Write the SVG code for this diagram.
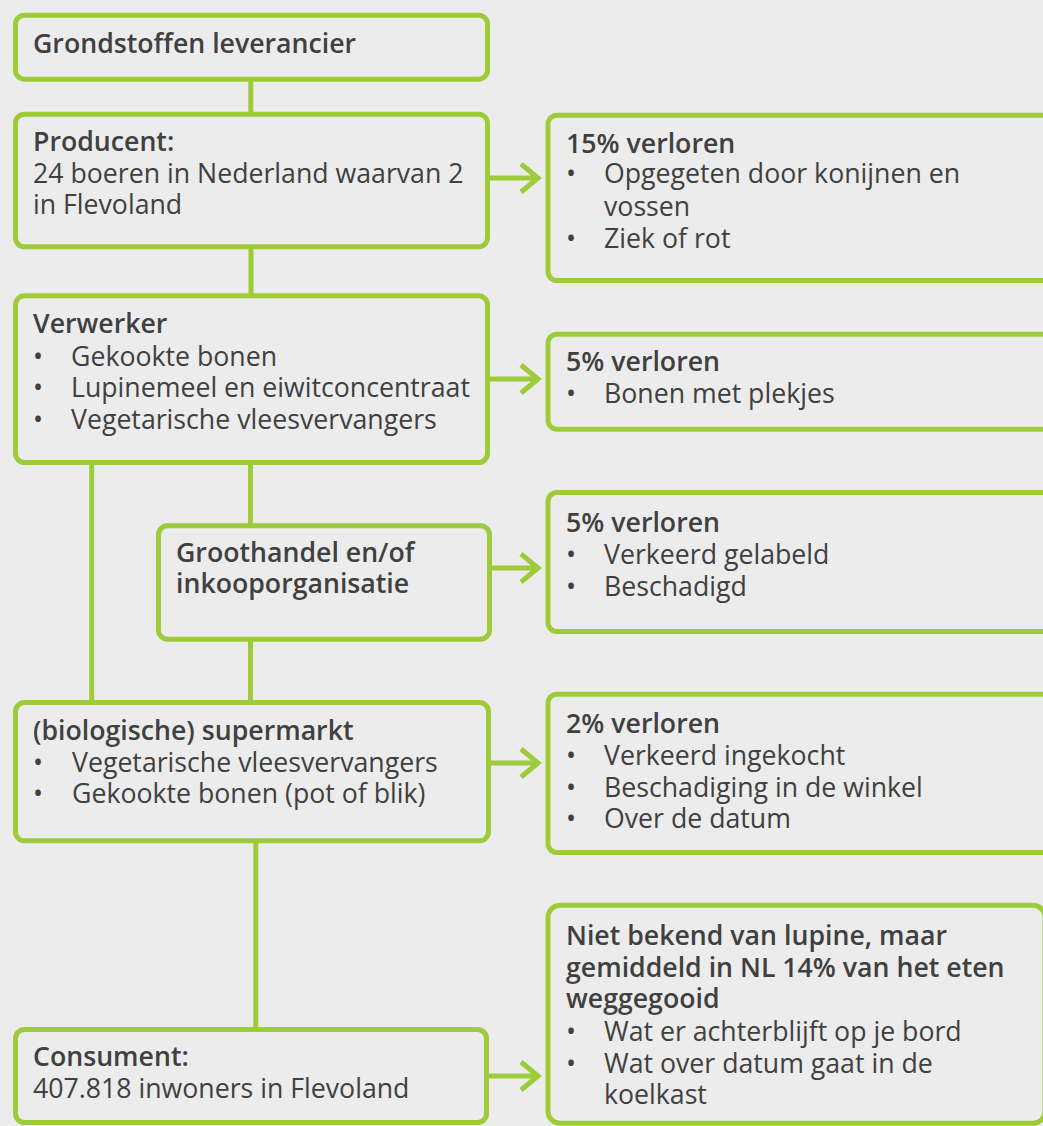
<svg xmlns="http://www.w3.org/2000/svg" width="1043" height="1126" viewBox="0 0 1043 1126">
<defs>
<style>
.box{fill:none;stroke:#9dcb3a;stroke-width:5}
.ln{stroke:#9dcb3a;stroke-width:5;fill:none}
text{font-family:"Open Sans","Noto Sans",sans-serif;font-size:26.7px;fill:#404040}
.b{font-weight:600}
</style>
<marker id="arr" viewBox="0 0 24 34" refX="20" refY="17" markerWidth="24" markerHeight="34" markerUnits="userSpaceOnUse" orient="auto">
<path d="M3 3 L20 17 L3 31" fill="none" stroke="#9dcb3a" stroke-width="5"/>
</marker>
</defs>
<rect x="0" y="0" width="1043" height="1126" fill="#ececec"/>
<g id="connectors">
<path class="ln" d="M250.8 81 V113"/>
<path class="ln" d="M251 248 V294"/>
<path class="ln" d="M250.5 464 V524"/>
<path class="ln" d="M91.7 464 V701"/>
<path class="ln" d="M250.5 641 V701"/>
<path class="ln" d="M255.8 842 V1028"/>
<path class="ln" d="M490 178 H538" marker-end="url(#arr)"/>
<path class="ln" d="M490 379 H538" marker-end="url(#arr)"/>
<path class="ln" d="M492 568 H538" marker-end="url(#arr)"/>
<path class="ln" d="M491 763 H538" marker-end="url(#arr)"/>
<path class="ln" d="M489 1076 H538" marker-end="url(#arr)"/>
</g>
<g id="grondstoffen">
<rect class="box" x="15.5" y="15.2" width="472" height="64" rx="9"/>
<text x="33" y="52.5" class="b">Grondstoffen leverancier</text>
</g>
<g id="producent">
<rect class="box" x="15.5" y="114.2" width="472" height="132.6" rx="9"/>
<text><tspan x="33" y="151" class="b">Producent:</tspan><tspan x="33" y="183">24 boeren in Nederland waarvan 2</tspan><tspan x="33" y="214">in Flevoland</tspan></text>
</g>
<g id="verwerker">
<rect class="box" x="15.5" y="295.8" width="472" height="166.7" rx="9"/>
<text><tspan x="33" y="333" class="b">Verwerker</tspan><tspan x="33" y="366">•</tspan><tspan x="71" y="366">Gekookte bonen</tspan><tspan x="33" y="397">•</tspan><tspan x="71" y="397">Lupinemeel en eiwitconcentraat</tspan><tspan x="33" y="429">•</tspan><tspan x="71" y="429">Vegetarische vleesvervangers</tspan></text>
</g>
<g id="groothandel">
<rect class="box" x="158.5" y="525.8" width="331" height="113.4" rx="9"/>
<text class="b"><tspan x="176" y="562">Groothandel en/of</tspan><tspan x="176" y="593">inkooporganisatie</tspan></text>
</g>
<g id="supermarkt">
<rect class="box" x="15.5" y="702.5" width="473" height="138.3" rx="9"/>
<text><tspan x="33" y="740" class="b">(biologische) supermarkt</tspan><tspan x="33" y="772">•</tspan><tspan x="72" y="772">Vegetarische vleesvervangers</tspan><tspan x="33" y="803">•</tspan><tspan x="72" y="803">Gekookte bonen (pot of blik)</tspan></text>
</g>
<g id="consument">
<rect class="box" x="15.5" y="1029.5" width="471" height="93" rx="9"/>
<text><tspan x="33" y="1066" class="b">Consument:</tspan><tspan x="33" y="1098">407.818 inwoners in Flevoland</tspan></text>
</g>
<g id="verlies-producent">
<rect class="box" x="548" y="115.2" width="510" height="165.3" rx="9"/>
<text><tspan x="566" y="152.7" class="b">15% verloren</tspan><tspan x="566" y="183.3">•</tspan><tspan x="604" y="183.3">Opgegeten door konijnen en</tspan><tspan x="604" y="216">vossen</tspan><tspan x="566" y="248.3">•</tspan><tspan x="604" y="248.3">Ziek of rot</tspan></text>
</g>
<g id="verlies-verwerker">
<rect class="box" x="548" y="334.2" width="510" height="95" rx="9"/>
<text><tspan x="566" y="371" class="b">5% verloren</tspan><tspan x="566" y="403">•</tspan><tspan x="604" y="403">Bonen met plekjes</tspan></text>
</g>
<g id="verlies-groothandel">
<rect class="box" x="548" y="492.5" width="510" height="139" rx="9"/>
<text><tspan x="566" y="532" class="b">5% verloren</tspan><tspan x="566" y="564">•</tspan><tspan x="604" y="564">Verkeerd gelabeld</tspan><tspan x="566" y="596">•</tspan><tspan x="604" y="596">Beschadigd</tspan></text>
</g>
<g id="verlies-supermarkt">
<rect class="box" x="548" y="694.2" width="510" height="158.3" rx="9"/>
<text><tspan x="566" y="733" class="b">2% verloren</tspan><tspan x="566" y="765">•</tspan><tspan x="604" y="765">Verkeerd ingekocht</tspan><tspan x="566" y="797">•</tspan><tspan x="604" y="797">Beschadiging in de winkel</tspan><tspan x="566" y="828">•</tspan><tspan x="604" y="828">Over de datum</tspan></text>
</g>
<g id="verlies-consument">
<rect class="box" x="548" y="905.2" width="497" height="218" rx="12"/>
<text><tspan x="566" y="945" class="b">Niet bekend van lupine, maar</tspan><tspan x="566" y="977" class="b">gemiddeld in NL 14% van het eten</tspan><tspan x="566" y="1008" class="b">weggegooid</tspan><tspan x="566" y="1041">•</tspan><tspan x="604" y="1041">Wat er achterblijft op je bord</tspan><tspan x="566" y="1073">•</tspan><tspan x="604" y="1073">Wat over datum gaat in de</tspan><tspan x="604" y="1104">koelkast</tspan></text>
</g>
</svg>
